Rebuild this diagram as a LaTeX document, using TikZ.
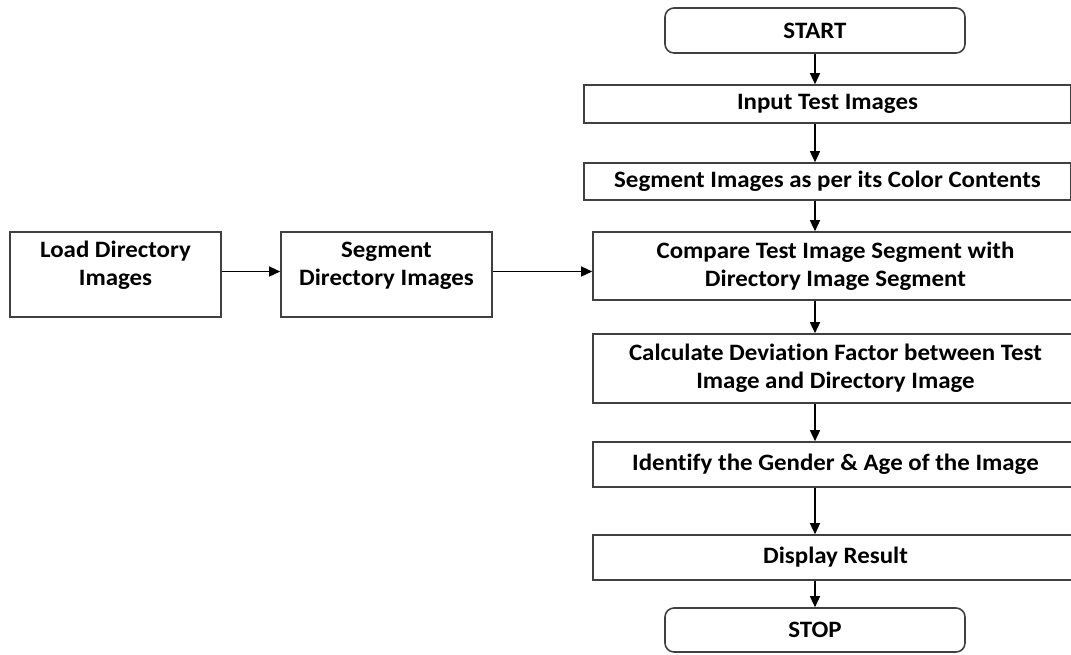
\documentclass[tikz,border=0pt]{standalone}
\usepackage{fontspec}
\setmainfont[Ligatures=NoCommon,FakeStretch=1.06]{Carlito}
\usetikzlibrary{arrows.meta,calc}
\begin{document}
\begin{tikzpicture}[x=1pt,y=-1pt,
  bx/.style={draw=black!75,line width=1.6pt,rectangle,inner sep=0pt,font=\fontsize{23.5}{28}\selectfont\bfseries,align=center},
  term/.style={bx,rounded corners=9pt},
  lbl/.style={font=\fontsize{23.5}{28}\selectfont\bfseries,align=center,inner sep=0pt},
  arr/.style={draw=black,line width=1.4pt,-{Triangle[length=11pt,width=10pt]}}]
\useasboundingbox (0,0) rectangle (1071,654);
\clip (0,0) rectangle (1071,654);
\node[term,minimum width=300,minimum height=45] (start) at (815,30.5) {START};
\node[bx,minimum width=487,minimum height=38] (input) at (827.5,104) {Input Test Images};
\node[bx,minimum width=487,minimum height=37] (segc) at (827.5,181.5) {Segment Images as per its Color Contents};
\node[bx,minimum width=485,minimum height=68] (compare) at (835.5,266) {Compare Test Image Segment with\\Directory Image Segment};
\node[bx,minimum width=485,minimum height=69] (calc) at (835.5,368.5) {Calculate Deviation Factor between Test\\Image and Directory Image};
\node[bx,minimum width=485,minimum height=45] (ident) at (835.5,464.5) {Identify the Gender \& Age of the Image};
\node[bx,minimum width=485,minimum height=45] (disp) at (835.5,557.5) {Display Result};
\node[term,minimum width=300,minimum height=44] (stop) at (815,630) {STOP};
\node[bx,minimum width=211,minimum height=85,label={[lbl,yshift=9pt]center:Load Directory\\Images}] (load) at (115.5,274.5) {};
\node[bx,minimum width=211,minimum height=85,label={[lbl,yshift=9pt]center:Segment\\Directory Images}] (segd) at (386.5,274.5) {};
\draw[arr] (start.south) -- (start.south |- input.north);
\draw[arr] (start.south |- input.south) -- (start.south |- segc.north);
\draw[arr] (start.south |- segc.south) -- (start.south |- compare.north);
\draw[arr] (start.south |- compare.south) -- (start.south |- calc.north);
\draw[arr] (start.south |- calc.south) -- (start.south |- ident.north);
\draw[arr] (start.south |- ident.south) -- (start.south |- disp.north);
\draw[arr] (start.south |- disp.south) -- (stop.north);
\draw[arr] ([yshift=3pt]load.east) -- ([yshift=3pt]segd.west);
\draw[arr] ([yshift=3pt]segd.east) -- ([yshift=3pt]segd.east -| compare.west);
\end{tikzpicture}
\end{document}
